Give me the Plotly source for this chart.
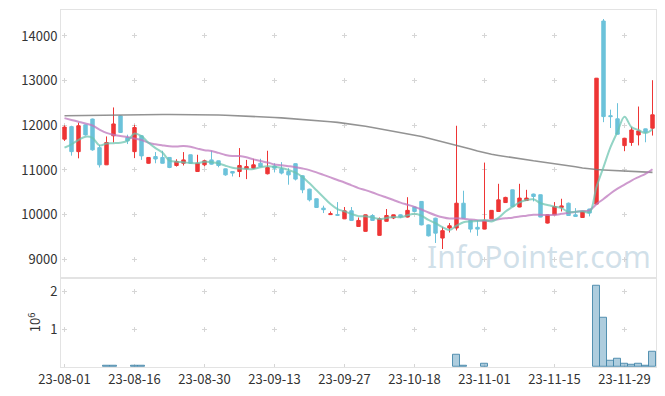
import plotly.graph_objects as go
from plotly.subplots import make_subplots

dates = ["23-08-01","23-08-02","23-08-03","23-08-04","23-08-07","23-08-08","23-08-09","23-08-10","23-08-11","23-08-14",
         "23-08-16","23-08-17","23-08-18","23-08-21","23-08-22","23-08-23","23-08-24","23-08-25","23-08-28","23-08-29",
         "23-08-30","23-08-31","23-09-01","23-09-04","23-09-05","23-09-06","23-09-07","23-09-08","23-09-11","23-09-12",
         "23-09-13","23-09-14","23-09-15","23-09-18","23-09-19","23-09-20","23-09-21","23-09-22","23-09-25","23-09-26",
         "23-09-27","23-10-04","23-10-05","23-10-06","23-10-10","23-10-11","23-10-12","23-10-13","23-10-16","23-10-17",
         "23-10-18","23-10-19","23-10-20","23-10-23","23-10-24","23-10-25","23-10-26","23-10-27","23-10-30","23-10-31",
         "23-11-01","23-11-02","23-11-03","23-11-06","23-11-07","23-11-08","23-11-09","23-11-10","23-11-13","23-11-14",
         "23-11-15","23-11-16","23-11-17","23-11-20","23-11-21","23-11-22","23-11-23","23-11-24","23-11-27","23-11-28",
         "23-11-29","23-11-30","23-12-01","23-12-04","23-12-05"]

opens = [11690,11970,11410,12010,12140,11500,11115,11765,12210,11725,
         11410,11765,11150,11300,11280,11280,11100,11150,11340,10965,
         11115,11225,11205,11025,10965,10965,11025,11040,11150,10915,
         11090,11025,10965,11140,10870,10570,10355,10145,10000,10000,
         9905,10085,9735,9625,9980,9535,9850,9925,9995,9945,
         10170,10295,9770,9920,9475,9700,9700,10255,9870,9715,
         9675,9905,10070,10270,10555,10170,10315,10460,10445,9810,
         9995,10160,10255,9995,9935,10125,10235,14335,12215,12145,
         11545,11615,11785,11920,11935]

highs = [12000,11990,12060,12020,12150,11560,11750,12400,12220,11790,
         12010,11780,11290,11400,11430,11290,11240,11400,11345,11340,
         11230,11430,11210,11030,10970,11490,11225,11250,11250,11430,
         11150,11175,11040,11145,10880,10580,10360,10200,10070,10280,
         10170,10170,9935,10000,10010,9935,10125,10000,10005,10390,
         10175,10300,9780,9930,9720,9810,11990,10535,9880,9870,
         11165,10100,10690,10400,10560,10690,10555,10470,10450,10000,
         10280,10355,10270,10145,10080,10130,13060,14380,12350,12495,
         11720,11960,12420,11925,13010]

lows = [11650,11320,11260,11770,11430,11055,11110,11615,11830,11580,
        11265,11225,11140,11150,11145,11040,11075,11100,11145,10960,
        11080,11120,11060,10870,10855,10840,10795,11020,11060,10900,
        10945,10900,10670,10765,10480,10295,10150,10035,9995,9980,
        9900,9865,9730,9620,9865,9530,9845,9900,9920,9935,
        10060,9760,9510,9365,9230,9600,9645,9915,9600,9525,
        9670,9900,10065,10265,10175,10165,10310,10295,9940,9800,
        9990,10070,9975,9955,9930,9960,10230,12070,11940,11795,
        11420,11540,11550,11620,11770]

closes = [11960,11410,11990,11785,11450,11115,11615,12030,11840,11650,
          11950,11315,11280,11245,11150,11055,11190,11225,11150,11150,
          11205,11130,11100,10890,10930,11100,11075,11115,11075,11055,
          11040,10930,10890,10795,10555,10330,10160,10110,10020,9985,
          10085,9870,9870,9995,9870,9905,9980,9995,9945,10095,
          10070,9770,9525,9585,9640,9750,10255,9920,9675,9675,
          9870,10095,10330,10385,10180,10370,10370,10405,9945,9995,
          10180,10195,9980,9960,10070,10035,13055,12195,12195,11800,
          11710,11895,11875,11845,12235]

ma5 = [11500,11575,11675,11745,11719,11550,11591,11599,11610,11650,
       11817,11757,11607,11488,11388,11209,11184,11173,11154,11154,
       11184,11172,11147,11095,11051,11030,11019,11022,11059,11084,
       11072,11043,10998,10942,10842,10700,10546,10390,10235,10121,
       10072,10014,9966,9961,9938,9902,9924,9949,9939,9984,
       10017,9975,9881,9809,9718,9654,9751,9830,9848,9855,
       9879,9847,9929,10071,10172,10272,10327,10342,10254,10217,
       10179,10144,10059,10062,10077,10048,10620,11063,11510,11856,
       12191,11959,11895,11825,11913]

ma20 = [12160,12120,12080,12040,11995,11905,11830,11790,11760,11740,
        11705,11670,11610,11575,11550,11530,11525,11535,11520,11478,
        11440,11426,11382,11337,11311,11310,11283,11237,11199,11169,
        11124,11105,11085,11063,11033,10997,10945,10889,10833,10775,
        10719,10656,10594,10549,10496,10437,10382,10326,10269,10221,
        10173,10115,10047,9986,9940,9911,9916,9907,9889,9874,
        9863,9874,9897,9917,9932,9956,9975,9996,9996,9991,
        9996,10017,10040,10059,10080,10095,10235,10348,10474,10581,
        10673,10763,10840,10913,11016]

ma_long = [12215,12218,12220,12222,12224,12226,12228,12230,12232,12234,
           12236,12238,12240,12241,12242,12243,12243,12243,12242,12240,
           12237,12233,12229,12224,12219,12213,12206,12199,12191,12183,
           12175,12166,12156,12146,12135,12123,12110,12096,12081,12065,
           12048,12030,12005,11980,11952,11925,11897,11870,11842,11815,
           11787,11750,11712,11674,11636,11598,11560,11515,11470,11425,
           11380,11352,11325,11298,11271,11245,11225,11205,11185,11165,
           11145,11120,11095,11070,11045,11020,11010,11000,10992,10984,
           10976,10968,10960,10952,10945]

volumes = [6000,5000,7000,4000,6000,5000,25000,28000,6000,5000,
           26000,24000,5000,3000,4000,4000,3000,5000,3000,4000,
           3000,4000,3000,5000,3000,6000,4000,3000,3000,5000,
           3000,3000,4000,4000,6000,5000,4000,3000,2000,3000,
           4000,4000,3000,5000,3000,6000,4000,3000,2000,6000,
           3000,6000,5000,6000,5000,3000,316000,25000,6000,5000,
           80000,9000,12000,8000,7000,8000,6000,5000,9000,6000,
           7000,5000,6000,4000,5000,7000,2140000,1290000,167000,210000,
           80000,53000,80000,26000,400000]

x_tick_labels = ["23-08-01","23-08-16","23-08-30","23-09-13","23-09-27",
                 "23-10-18","23-11-01","23-11-15","23-11-29"]
price_ticks = [9000, 10000, 11000, 12000, 13000, 14000]
volume_ticks = [1, 2]

# ---- layout geometry / styles ----
W, H = 665, 396
ML, MR, MT, MB = 61, 9, 10, 29
pw, ph = W - ML - MR, H - MT - MB
split = 0.25
price_range = [8586, 14582]
vol_range = [0, 2.36]
grid_col = "#d6d6d6"
line_col = "#e3e3e3"
font_family = "Noto Sans CJK KR, Noto Sans, sans-serif"

n = len(dates)
step = pw / n
hdash = f"0px,{0.5*step-2.5:.2f}px,5px,{10*step-0.5*step-2.5:.2f}px"
p_len = ph * (1 - split)
p_ppu = p_len / (price_range[1] - price_range[0])
p_off = (price_range[1] - price_ticks[-1]) * p_ppu
p_per = 1000 * p_ppu
vdash_price = f"0px,{p_off-2.5:.2f}px,5px,{p_per-p_off-2.5:.2f}px"
v_len = ph * split
v_ppu = v_len / (vol_range[1] - vol_range[0])
v_off = (vol_range[1] - volume_ticks[-1]) * v_ppu
v_per = v_ppu
vdash_vol = f"0px,{v_off-2.5:.2f}px,5px,{v_per-v_off-2.5:.2f}px"

vol_m = [v / 1e6 for v in volumes]
# bars thinner than about half a pixel get no outline (otherwise they paint the baseline)
bar_line_w = [1 if v * v_ppu >= 0.5 else 0 for v in vol_m]

fig = make_subplots(rows=2, cols=1, shared_xaxes=True, vertical_spacing=0,
                    row_heights=[1 - split, split])

fig.add_trace(go.Candlestick(
    x=dates, open=opens, high=highs, low=lows, close=closes,
    increasing=dict(line=dict(color="#ee3535", width=1), fillcolor="#ee3535"),
    decreasing=dict(line=dict(color="#6cc2da", width=1), fillcolor="#6cc2da"),
    showlegend=False, hoverinfo="skip"), row=1, col=1)

fig.add_trace(go.Scatter(x=dates, y=ma_long, mode="lines",
                         line=dict(color="rgba(120,120,120,0.8)", width=1.6),
                         showlegend=False, hoverinfo="skip"), row=1, col=1)
fig.add_trace(go.Scatter(x=dates, y=ma20, mode="lines",
                         line=dict(color="rgba(190,120,190,0.75)", width=2, shape="spline"),
                         showlegend=False, hoverinfo="skip"), row=1, col=1)
fig.add_trace(go.Scatter(x=dates, y=ma5, mode="lines",
                         line=dict(color="rgba(105,195,175,0.72)", width=2, shape="spline"),
                         showlegend=False, hoverinfo="skip"), row=1, col=1)

fig.add_trace(go.Bar(x=dates, y=vol_m,
                     marker=dict(color="rgba(120,172,200,0.6)",
                                 line=dict(color="rgba(70,135,170,0.9)", width=bar_line_w)),
                     showlegend=False, hoverinfo="skip"), row=2, col=1)

common_x = dict(type="category", categoryorder="array", categoryarray=dates,
                range=[-0.5, n - 0.5], tickmode="array", tickvals=x_tick_labels,
                showgrid=True, gridcolor=grid_col, gridwidth=1,
                showline=True, mirror=True, linecolor=line_col, linewidth=1,
                ticks="", zeroline=False)
fig.update_xaxes(**common_x)
fig.update_xaxes(showticklabels=False, griddash=vdash_price,
                 rangeslider=dict(visible=False), row=1, col=1)
fig.update_xaxes(showticklabels=True, ticktext=x_tick_labels, griddash=vdash_vol,
                 tickfont=dict(size=13, color="#333"), row=2, col=1)

fig.update_yaxes(range=price_range, tickmode="array", tickvals=price_ticks,
                 ticktext=[str(t) for t in price_ticks],
                 showgrid=True, gridcolor=grid_col, griddash=hdash,
                 showline=True, mirror=True, linecolor=line_col, zeroline=False,
                 ticks="", tickfont=dict(size=13, color="#333"), row=1, col=1)
fig.update_yaxes(range=vol_range, tickmode="array", tickvals=volume_ticks,
                 ticktext=[str(t) for t in volume_ticks],
                 showgrid=True, gridcolor=grid_col, griddash=hdash,
                 showline=True, mirror=True, linecolor=line_col, zeroline=False,
                 ticks="", tickfont=dict(size=13, color="#333"),
                 title=dict(text="10<sup>6</sup>", font=dict(size=13, color="#333"), standoff=6),
                 row=2, col=1)

fig.add_annotation(text="InfoPointer.com", xref="paper", yref="paper",
                   x=0.803, y=0.31, xanchor="center", yanchor="middle", showarrow=False,
                   font=dict(family="Noto Sans, sans-serif", size=30, color="rgba(170,198,215,0.55)"))

fig.update_layout(width=W, height=H, margin=dict(l=ML, r=MR, t=MT, b=MB),
                  paper_bgcolor="white", plot_bgcolor="white", bargap=0,
                  font=dict(family=font_family, size=13, color="#333"),
                  showlegend=False)

fig.write_html("out.html", config={"displayModeBar": False},
               post_script="document.body.style.margin='0';document.body.style.padding='0';")
